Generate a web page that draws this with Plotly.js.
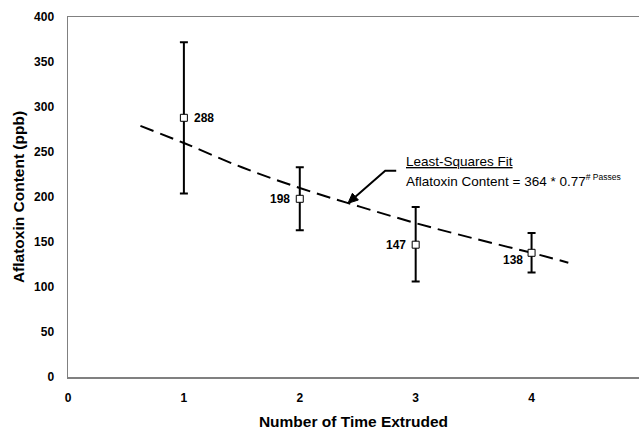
<!DOCTYPE html>
<html>
<head>
<meta charset="utf-8">
<script src="https://cdn.plot.ly/plotly-3.0.1.min.js"></script>
<style>html,body{margin:0;padding:0;background:#fff;}#chart{width:639px;height:431px;}</style>
</head>
<body>
<div id="chart"></div>
<script>
// Measured data
const passes = [1, 2, 3, 4];
const aflatoxin = [288, 198, 147, 138];
const upperBound = [372, 233, 189, 160];
const lowerBound = [204, 163, 106, 116];
const labelText = ['288', '198', '147', '138'];

// Fitted curve
const fitX = [0.625, 1, 1.5, 2, 2.5, 3, 3.5, 4, 4.317];
const fitY = [279, 260, 233, 210, 190, 171, 154, 138, 127];

const xTicks = [0, 1, 2, 3, 4];
const yTicks = [0, 50, 100, 150, 200, 250, 300, 350, 400];

const errPlus = aflatoxin.map((v, i) => upperBound[i] - v);
const errMinus = aflatoxin.map((v, i) => v - lowerBound[i]);

const font = 'Liberation Sans, Arial, sans-serif';

// label placement (style only)
const labelAnchor = ['left', 'right', 'right', 'right'];
const labelXShift = [8, -8, -8, -7];
const labelYShift = [0, 0, 0, -7];

const traces = [
  {
    x: fitX, y: fitY, type: 'scatter', mode: 'lines',
    line: {color: '#000', width: 2, dash: '14px,7px', shape: 'spline'},
    hoverinfo: 'skip', showlegend: false
  },
  {
    x: passes, y: aflatoxin, type: 'scatter', mode: 'markers',
    marker: {symbol: 'square', size: 7, color: '#fff', line: {color: '#000', width: 1}},
    error_y: {type: 'data', symmetric: false, array: errPlus, arrayminus: errMinus,
              color: '#000', thickness: 2, width: 4},
    showlegend: false
  }
];

const labelAnnotations = passes.map((p, i) => ({
  x: p, y: aflatoxin[i], xref: 'x', yref: 'y', text: labelText[i], showarrow: false,
  xanchor: labelAnchor[i], yanchor: 'middle', xshift: labelXShift[i], yshift: labelYShift[i],
  font: {family: font, size: 12, color: '#000', weight: 'bold'}
}));

const layout = {
  width: 639, height: 431,
  margin: {l: 67.5, r: 0, t: 17.3, b: 54.3},
  paper_bgcolor: '#fff', plot_bgcolor: '#fff',
  font: {family: font, color: '#000'},
  xaxis: {
    range: [0, 4.927], tickvals: xTicks, ticks: '', showgrid: false, zeroline: false,
    showline: true, mirror: true, linecolor: '#808080', linewidth: 1.5,
    tickfont: {family: font, size: 12, weight: 'bold'}, ticklabelstandoff: 9,
    title: {text: 'Number of Time Extruded', font: {family: font, size: 15.5, weight: 'bold'}, standoff: 12}
  },
  yaxis: {
    range: [0, 400], tickvals: yTicks, ticks: '', showgrid: false, zeroline: false,
    showline: true, mirror: false, linecolor: '#808080', linewidth: 1.5,
    tickfont: {family: font, size: 12, weight: 'bold'}, ticklabelstandoff: 10,
    title: {text: 'Aflatoxin Content (ppb)', font: {family: font, size: 15.5, weight: 'bold'}, standoff: 5}
  },
  shapes: [
    // arrow shaft with short horizontal lead
    {type: 'path', xref: 'x', yref: 'y',
     path: 'M 2.832 229.27 L 2.737 229.27 L 2.480 200.4',
     line: {color: '#000', width: 2}},
    // arrow head
    {type: 'path', xref: 'x', yref: 'y',
     path: 'M 2.4155 193.0 L 2.5057 196.66 L 2.4540 204.14 Z',
     fillcolor: '#000', line: {color: '#000', width: 1}}
  ],
  annotations: [
    {x: 2.90, y: 240, xref: 'x', yref: 'y', xanchor: 'left', yanchor: 'middle',
     text: '<u>Least-Squares Fit</u>', showarrow: false,
     font: {family: font, size: 13.5, color: '#000'}},
    {x: 2.90, y: 218.6, xref: 'x', yref: 'y', xanchor: 'left', yanchor: 'middle',
     text: 'Aflatoxin Content = 364 * 0.77<sup><span style="font-size:8.5px"># Passes</span></sup>', showarrow: false,
     font: {family: font, size: 13.5, color: '#000'}}
  ].concat(labelAnnotations)
};

Plotly.newPlot('chart', traces, layout, {staticPlot: true, displayModeBar: false});
</script>
</body>
</html>
